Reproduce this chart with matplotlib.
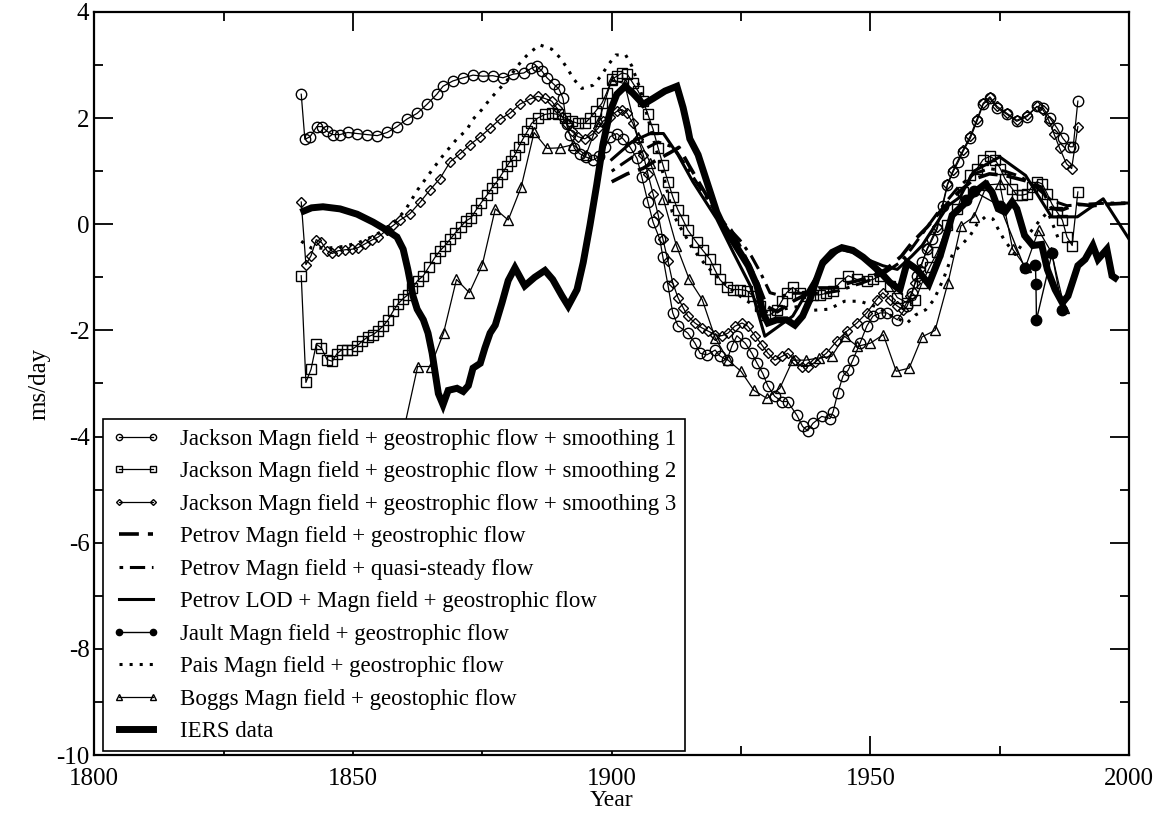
import numpy as np
import matplotlib
matplotlib.use('Agg')
import matplotlib.pyplot as plt

plt.rcParams['font.family'] = ['Liberation Serif', 'DejaVu Serif']
plt.rcParams['axes.unicode_minus'] = False

# Jackson, smoothing 1 (circles)
j1_year = [1840.0, 1840.7, 1841.7, 1843.0, 1844.0, 1845.0, 1846.1, 1847.5, 1849.0, 1850.8,
           1852.7, 1854.7, 1856.6, 1858.5, 1860.4, 1862.4, 1864.3, 1866.2, 1867.4, 1869.3,
           1871.3, 1873.2, 1875.1, 1877.0, 1879.0, 1881.0, 1883.0, 1884.5, 1885.5, 1886.5,
           1887.5, 1888.8, 1889.8, 1890.6, 1891.3, 1891.9, 1892.8, 1893.8, 1895.0, 1896.4,
           1897.6, 1898.7, 1899.7, 1901.0, 1902.2, 1903.5, 1904.9, 1905.8, 1907.0, 1908.0,
           1909.3, 1909.9, 1910.9, 1911.8, 1912.8, 1914.7, 1916.1, 1917.1, 1918.4, 1920.0,
           1920.9, 1922.3, 1923.2, 1924.2, 1925.8, 1927.1, 1928.1, 1929.2, 1930.2, 1931.5,
           1932.9, 1934.0, 1935.8, 1936.9, 1937.9, 1938.9, 1940.6, 1942.2, 1942.8, 1943.7,
           1944.7, 1945.7, 1946.6, 1948.0, 1949.3, 1950.5, 1951.9, 1953.2, 1955.2, 1957.1,
           1958.1, 1959.0, 1960.0, 1961.0, 1962.0, 1962.9, 1964.0, 1964.9, 1966.0, 1967.0,
           1967.9, 1969.3, 1970.6, 1971.8, 1973.1, 1974.5, 1976.4, 1978.3, 1980.3, 1982.2,
           1983.4, 1984.7, 1986.1, 1987.2, 1988.6, 1989.2, 1990.1]
j1_val = [2.45, 1.60, 1.65, 1.84, 1.84, 1.75, 1.69, 1.69, 1.73, 1.71,
          1.69, 1.67, 1.73, 1.84, 1.98, 2.09, 2.26, 2.45, 2.60, 2.70,
          2.76, 2.81, 2.79, 2.80, 2.76, 2.83, 2.85, 2.94, 2.98, 2.89,
          2.76, 2.64, 2.55, 2.37, 1.88, 1.69, 1.43, 1.33, 1.27, 1.21,
          1.28, 1.45, 1.65, 1.71, 1.61, 1.46, 1.24, 0.90, 0.42, 0.04,
          -0.28, -0.62, -1.16, -1.67, -1.91, -2.05, -2.24, -2.43, -2.46, -2.37,
          -2.48, -2.56, -2.30, -2.10, -2.24, -2.43, -2.62, -2.81, -3.05, -3.24,
          -3.34, -3.34, -3.60, -3.81, -3.89, -3.75, -3.62, -3.66, -3.53, -3.18,
          -2.86, -2.75, -2.56, -2.24, -1.92, -1.73, -1.67, -1.67, -1.80, -1.54,
          -1.29, -0.97, -0.72, -0.47, -0.28, -0.09, 0.35, 0.74, 0.99, 1.18,
          1.37, 1.62, 1.94, 2.26, 2.37, 2.19, 2.07, 1.94, 2.03, 2.22,
          2.19, 2.00, 1.81, 1.62, 1.46, 1.46, 2.32]

# Jackson, smoothing 2 (squares)
j2_year = [1840.0, 1840.9, 1841.9, 1842.9, 1843.9, 1845.0, 1846.0, 1846.9, 1847.9, 1848.9,
           1849.8, 1850.8, 1851.8, 1852.9, 1853.9, 1854.8, 1855.8, 1856.8, 1857.8, 1858.7,
           1859.7, 1860.6, 1861.5, 1862.5, 1863.6, 1864.7, 1865.8, 1866.8, 1867.8, 1868.8,
           1869.8, 1870.8, 1871.8, 1872.8, 1873.8, 1874.8, 1875.9, 1876.8, 1877.8, 1878.8,
           1879.7, 1880.5, 1881.3, 1882.0, 1882.8, 1883.7, 1884.5, 1885.7, 1887.1, 1888.4,
           1889.6, 1891.0, 1892.3, 1893.5, 1894.8, 1895.8, 1896.9, 1898.1, 1899.0, 1900.0,
           1901.0, 1902.0, 1903.0, 1904.1, 1905.1, 1906.1, 1907.0, 1908.0, 1909.0, 1909.9,
           1910.9, 1911.8, 1912.8, 1913.8, 1914.7, 1916.4, 1917.6, 1919.0, 1919.9, 1920.9,
           1922.3, 1923.4, 1924.8, 1926.1, 1927.3, 1928.6, 1929.6, 1930.6, 1931.9, 1932.9,
           1933.8, 1935.0, 1936.4, 1937.7, 1938.9, 1940.2, 1941.5, 1942.8, 1944.1, 1945.7,
           1947.4, 1949.3, 1950.5, 1951.9, 1953.8, 1955.2, 1957.1, 1958.7, 1960.0, 1961.5,
           1962.9, 1964.9, 1966.8, 1967.9, 1969.3, 1970.6, 1971.8, 1973.1, 1974.1, 1975.1,
           1976.0, 1977.4, 1978.3, 1979.3, 1980.3, 1981.2, 1982.2, 1983.2, 1984.2, 1985.1,
           1986.1, 1987.1, 1988.0, 1989.0, 1990.1]
j2_val = [-0.97, -2.98, -2.73, -2.26, -2.33, -2.55, -2.58, -2.44, -2.36, -2.36,
          -2.36, -2.29, -2.20, -2.12, -2.08, -2.01, -1.92, -1.80, -1.63, -1.50,
          -1.40, -1.33, -1.20, -1.06, -0.97, -0.80, -0.63, -0.50, -0.40, -0.28,
          -0.16, -0.05, 0.06, 0.12, 0.27, 0.41, 0.55, 0.68, 0.80, 0.95,
          1.09, 1.20, 1.31, 1.45, 1.60, 1.75, 1.90, 2.00, 2.07, 2.09,
          2.07, 2.00, 1.94, 1.90, 1.90, 2.00, 2.13, 2.28, 2.47, 2.73,
          2.79, 2.85, 2.83, 2.66, 2.51, 2.32, 2.07, 1.79, 1.43, 1.12,
          0.80, 0.52, 0.27, 0.08, -0.11, -0.34, -0.49, -0.66, -0.85, -1.04,
          -1.19, -1.23, -1.23, -1.25, -1.35, -1.54, -1.71, -1.71, -1.61, -1.44,
          -1.29, -1.19, -1.29, -1.35, -1.33, -1.33, -1.30, -1.25, -1.10, -0.97,
          -1.04, -1.06, -1.04, -0.97, -1.16, -1.38, -1.48, -1.42, -1.10, -0.80,
          -0.53, -0.02, 0.29, 0.61, 0.93, 1.05, 1.22, 1.28, 1.22, 1.05,
          0.86, 0.67, 0.55, 0.55, 0.57, 0.71, 0.80, 0.76, 0.57, 0.38,
          0.23, 0.08, -0.24, -0.40, 0.61]

# Jackson, smoothing 3 (diamonds)
j3_year = [1840.0, 1840.9, 1841.9, 1842.9, 1843.9, 1845.0, 1846.0, 1847.1, 1848.5, 1849.8,
           1851.0, 1852.3, 1853.6, 1854.9, 1856.5, 1857.8, 1859.1, 1861.0, 1863.0, 1864.9,
           1866.8, 1868.8, 1870.7, 1872.6, 1874.6, 1876.5, 1878.4, 1880.3, 1882.2, 1884.2,
           1885.7, 1887.1, 1888.4, 1889.4, 1890.4, 1891.4, 1892.3, 1893.5, 1894.8, 1896.2,
           1897.4, 1898.3, 1899.7, 1901.0, 1902.0, 1903.0, 1904.1, 1905.1, 1906.1, 1907.0,
           1908.0, 1909.0, 1909.9, 1910.9, 1911.8, 1912.8, 1913.8, 1914.7, 1916.1, 1917.4,
           1918.6, 1920.0, 1921.3, 1922.5, 1923.8, 1925.2, 1926.3, 1927.7, 1929.0, 1930.2,
           1931.5, 1932.9, 1934.0, 1935.4, 1936.7, 1937.9, 1939.3, 1941.5, 1943.5, 1945.5,
           1947.4, 1949.3, 1951.2, 1952.4, 1953.8, 1955.2, 1956.3, 1957.7, 1958.7, 1959.6,
           1961.0, 1962.9, 1964.9, 1966.0, 1967.9, 1969.3, 1970.6, 1971.8, 1973.1, 1974.5,
           1976.4, 1978.3, 1980.3, 1982.2, 1983.4, 1984.5, 1985.5, 1986.6, 1987.9, 1988.9,
           1990.1]
j3_val = [0.42, -0.76, -0.59, -0.29, -0.34, -0.50, -0.55, -0.50, -0.48, -0.47,
          -0.44, -0.37, -0.30, -0.24, -0.11, -0.02, 0.08, 0.20, 0.42, 0.65,
          0.86, 1.18, 1.33, 1.50, 1.65, 1.81, 1.98, 2.09, 2.26, 2.36,
          2.41, 2.37, 2.32, 2.19, 2.03, 1.88, 1.75, 1.65, 1.61, 1.69,
          1.81, 1.94, 2.03, 2.13, 2.16, 2.09, 1.90, 1.61, 1.31, 0.95,
          0.57, 0.17, -0.28, -0.70, -1.10, -1.38, -1.57, -1.73, -1.86, -1.95,
          -2.01, -2.08, -2.10, -2.05, -1.92, -1.86, -1.92, -2.10, -2.27, -2.43,
          -2.56, -2.49, -2.43, -2.56, -2.68, -2.68, -2.60, -2.43, -2.20, -2.01,
          -1.86, -1.67, -1.42, -1.29, -1.42, -1.54, -1.61, -1.35, -1.10, -0.85,
          -0.45, -0.05, 0.76, 1.02, 1.40, 1.66, 1.98, 2.28, 2.40, 2.22,
          2.09, 1.96, 2.05, 2.22, 2.15, 1.95, 1.70, 1.43, 1.14, 1.05,
          1.84]

# Petrov Magn field + geostrophic flow
pg_year = [1900, 1903, 1906, 1908.5, 1911.3, 1913, 1915, 1918, 1921, 1923, 1925, 1928, 1930,
           1932, 1935, 1938, 1940, 1943, 1946, 1950, 1953, 1956, 1958, 1961, 1964, 1967, 1970,
           1973, 1976, 1980, 1983, 1985, 1987, 1990, 1993, 1996, 2000]
pg_val = [0.80, 0.95, 1.05, 1.20, 1.35, 1.45, 1.10, 0.60, 0.10, -0.10, -0.45, -1.05, -1.55,
          -1.65, -1.45, -1.30, -1.20, -1.20, -1.10, -1.00, -0.85, -0.60, -0.35, -0.05, 0.30, 0.60, 0.85,
          0.95, 0.92, 0.82, 0.70, 0.30, 0.27, 0.38, 0.35, 0.38, 0.40]

# Petrov Magn field + quasi-steady flow
pq_year = [1900, 1903, 1906, 1909, 1912, 1915, 1918, 1921, 1924.8, 1927, 1928.7, 1930.6, 1932.9,
           1935, 1938, 1941, 1944, 1947, 1950, 1953, 1956, 1958, 1961, 1964, 1967, 1970, 1973,
           1976, 1979, 1982, 1985, 1988, 1992, 1996, 2000]
pq_val = [1.00, 1.20, 1.40, 1.55, 1.45, 1.00, 0.55, 0.10, -0.30, -0.60, -0.90, -1.29, -1.35,
          -1.30, -1.30, -1.30, -1.25, -1.15, -1.05, -0.90, -0.70, -0.45, -0.05, 0.35, 0.70, 0.95, 1.05,
          1.00, 0.90, 0.70, 0.45, 0.35, 0.38, 0.40, 0.40]

# Petrov LOD + Magn field + geostrophic flow
pl_year = [1900, 1904, 1907.4, 1910, 1912.8, 1915.7, 1920.3, 1923.5, 1926.8, 1929.6, 1935,
           1940.8, 1944.1, 1946.6, 1949.3, 1952.4, 1955.2, 1958, 1960, 1965, 1967.3, 1970,
           1975, 1980, 1985, 1990, 1995, 2000]
pl_val = [1.22, 1.56, 1.71, 1.71, 1.31, 0.80, 0.10, -0.53, -1.16, -2.11, -1.73,
          -0.78, -0.47, -0.53, -0.66, -0.78, -0.85, -0.60, -0.40, 0.35, 0.51, 1.00,
          1.27, 0.92, 0.14, 0.14, 0.48, -0.28]

# Jault
ja_year = [1968.5, 1970.0, 1975.0, 1979.8, 1981.9, 1982.0, 1982.1, 1985.1, 1987.1]
ja_val = [0.45, 0.62, 0.35, -0.82, -0.76, -1.12, -1.80, -0.55, -1.61]

# Pais
pa_year = [1840, 1842, 1845, 1848, 1851, 1854, 1857, 1860, 1862.5, 1865.5, 1867.2, 1868.8,
           1870.1, 1872.0, 1873.2, 1874.9, 1876.5, 1877.9, 1879.7, 1881.2, 1882.6, 1884.1,
           1886.1, 1888.4, 1890.1, 1891.4, 1892.7, 1894.2, 1896.4, 1897.9, 1899.3, 1900.8,
           1902.7, 1903.9, 1905.5, 1907, 1908.5, 1910, 1911.7, 1912.9, 1914.2, 1915.5, 1918,
           1921, 1924, 1927, 1930, 1933, 1936, 1939, 1942, 1945, 1948, 1951, 1954, 1957.1,
           1958.7, 1960.7, 1962.3, 1964.2, 1966.0, 1967.7, 1969.3, 1970.6, 1972.2, 1973.7,
           1974.7, 1975.9, 1978, 1980.5, 1982.8, 1984.3, 1985.7, 1986.6]
pa_val = [-0.32, -0.45, -0.45, -0.42, -0.35, -0.22, -0.05, 0.25, 0.65, 1.05, 1.27, 1.46,
          1.61, 1.78, 1.98, 2.16, 2.36, 2.51, 2.70, 2.90, 3.08, 3.23,
          3.38, 3.30, 3.13, 2.94, 2.73, 2.56, 2.62, 2.79, 3.00, 3.19,
          3.19, 2.98, 2.55, 2.00, 1.45, 0.93, 0.23, 0.00, -0.21, -0.44, -0.75,
          -1.05, -1.30, -1.50, -1.65, -1.60, -1.55, -1.62, -1.60, -1.45, -1.45, -1.55, -1.72, -1.86,
          -1.71, -1.61, -1.42, -1.01, -0.53, -0.38, -0.21, 0.00, 0.14, 0.10,
          -0.09, -0.30, -0.57, -0.20, 0.08, 0.23, -0.11, -0.34]

# Boggs
bo_year = [1860, 1862.5, 1865, 1867.5, 1870, 1872.5, 1875, 1877.5, 1880, 1882.5, 1885, 1887.5,
           1890, 1892.5, 1895, 1897.5, 1900, 1902.5, 1905, 1907.5, 1910, 1912.5, 1915, 1917.5,
           1920, 1922.5, 1925, 1927.5, 1930, 1932.5, 1935, 1937.5, 1940, 1942.5, 1945, 1947.5,
           1950, 1952.5, 1955, 1957.5, 1960, 1962.5, 1965, 1967.5, 1970, 1972.5, 1975, 1977.5,
           1980, 1982.5, 1985, 1987.5]
bo_val = [-3.79, -2.68, -2.68, -2.05, -1.04, -1.29, -0.76, 0.29, 0.08, 0.70, 1.73, 1.43,
          1.44, 1.50, 1.30, 1.95, 2.72, 2.65, 1.65, 1.15, 0.47, -0.40, -1.04, -1.42,
          -2.14, -2.56, -2.77, -3.13, -3.28, -3.09, -2.56, -2.56, -2.52, -2.49, -2.11, -2.30,
          -2.24, -2.08, -2.77, -2.71, -2.12, -2.00, -1.10, -0.03, 0.14, 0.74, 0.76, -0.47,
          -0.80, -0.11, -0.53, -1.57]

# IERS data
ie_year = [1840.5, 1842, 1844.2, 1847.5, 1850.8, 1853.9, 1856.5, 1858.5, 1859.7, 1860.6,
           1861.6, 1862.4, 1863.6, 1864.5, 1865.3, 1865.9, 1866.5, 1867.4, 1868.4, 1870.1,
           1871.3, 1872.3, 1873.2, 1874.6, 1875.5, 1876.5, 1877.5, 1878.8, 1880.0, 1881.3,
           1883.2, 1885.1, 1887.1, 1888.6, 1890.4, 1891.6, 1893.3, 1894.5, 1895.8, 1897.1,
           1898.3, 1899.7, 1901.0, 1902.6, 1904.1, 1906.1, 1908.0, 1910.3, 1912.6, 1913.8,
           1914.7, 1915.1, 1916.7, 1918.4, 1920.3, 1921.5, 1923.2, 1924.8, 1926.4, 1928.1,
           1929.2, 1930.2, 1931.9, 1933.8, 1935.4, 1936.9, 1938.3, 1939.6, 1940.8, 1942.6,
           1944.5, 1946.6, 1948.6, 1950.5, 1952.4, 1953.8, 1955.7, 1957.1, 1959.0, 1961.3,
           1963.5, 1965.8, 1967.9, 1970.2, 1972.2, 1973.5, 1974.7, 1976.0, 1977.4, 1978.3,
           1979.8, 1981.4, 1983.1, 1984.2, 1985.7, 1987.1, 1988.2, 1990.1, 1991.5, 1993.0,
           1994.0, 1995.7, 1996.7, 1997.3]
ie_val = [0.25, 0.31, 0.33, 0.29, 0.19, 0.04, -0.11, -0.24, -0.47, -0.85,
          -1.35, -1.60, -1.80, -2.05, -2.43, -2.81, -3.19, -3.40, -3.13, -3.09,
          -3.15, -3.04, -2.71, -2.62, -2.33, -2.05, -1.90, -1.48, -1.06, -0.82,
          -1.16, -1.00, -0.87, -1.04, -1.35, -1.54, -1.23, -0.72, -0.02, 0.74,
          1.50, 2.13, 2.45, 2.60, 2.47, 2.26, 2.37, 2.51, 2.60, 2.20,
          1.81, 1.61, 1.31, 0.80, 0.23, -0.02, -0.28, -0.53, -0.78, -1.16,
          -1.67, -1.86, -1.80, -1.80, -1.90, -1.73, -1.42, -1.04, -0.72, -0.53,
          -0.44, -0.49, -0.62, -0.78, -0.95, -1.10, -1.23, -0.72, -0.85, -1.13,
          -0.59, 0.17, 0.36, 0.61, 0.76, 0.61, 0.29, 0.23, 0.42, 0.29,
          -0.21, -0.40, -0.38, -0.85, -1.23, -1.48, -1.35, -0.78, -0.66, -0.40,
          -0.66, -0.47, -0.97, -1.01]

fig = plt.figure(figsize=(11.64, 8.15), dpi=100)
ax = fig.add_axes([0.081, 0.0736, 0.889, 0.9117])

thin = dict(color='black', lw=0.9, mfc='none', mec='black', mew=1.0)
ax.plot(j1_year, j1_val, marker='o', ms=7.5, label='Jackson Magn field + geostrophic flow + smoothing 1', **thin)
ax.plot(j2_year, j2_val, marker='s', ms=6.5, label='Jackson Magn field + geostrophic flow + smoothing 2', **thin)
ax.plot(j3_year, j3_val, marker='D', ms=5.0, label='Jackson Magn field + geostrophic flow + smoothing 3', **thin)
ax.plot(pg_year, pg_val, color='black', lw=2.6, linestyle=(0, (5.5, 2.5)),
        label='Petrov Magn field + geostrophic flow')
ax.plot(pq_year, pq_val, color='black', lw=2.2, linestyle=(0, (1.2, 2.2, 5.0, 2.2)),
        label='Petrov Magn field + quasi-steady flow')
ax.plot(pl_year, pl_val, color='black', lw=2.2, label='Petrov LOD + Magn field + geostrophic flow')
ax.plot(ja_year, ja_val, color='black', lw=1.0, marker='o', ms=7.5, mfc='black', mec='black',
        label='Jault Magn field + geostrophic flow')
ax.plot(pa_year, pa_val, color='black', lw=2.2, linestyle=(0, (1, 2.3)),
        label='Pais Magn field + geostrophic flow')
ax.plot(bo_year, bo_val, marker='^', ms=7.0, label='Boggs Magn field + geostophic flow', **thin)
ax.plot(ie_year, ie_val, color='black', lw=5.0, solid_joinstyle='miter',
        label='IERS data')

ax.set_xlim(1800, 2000)
ax.set_ylim(-10, 4)
ax.set_xticks(np.arange(1800, 2001, 50))
ax.set_xticks(np.arange(1800, 2001, 25), minor=True)
ax.set_yticks(np.arange(-10, 5, 2))
ax.set_yticks(np.arange(-10, 5, 1), minor=True)
ax.tick_params(which='both', direction='in', top=True, right=True, labelsize=18, width=1.3)
ax.tick_params(which='major', length=14)
ax.tick_params(which='minor', length=6.5)
ax.tick_params(axis='x', which='major', pad=9)
for s in ax.spines.values():
    s.set_linewidth(1.6)
ax.set_xlabel('Year', fontsize=17, labelpad=0)
ax.set_ylabel('ms/day', fontsize=18, labelpad=4)

leg = ax.legend(loc='lower left', bbox_to_anchor=(0.0084, 0.005), borderaxespad=0,
                fontsize=16.5, frameon=True, fancybox=False, edgecolor='black', framealpha=1,
                handlelength=2.1, handletextpad=0.85, labelspacing=0.5, borderpad=0.4,
                numpoints=2, markerscale=0.6)
leg.get_frame().set_linewidth(1.2)

fig.savefig('out.png', dpi=100)
